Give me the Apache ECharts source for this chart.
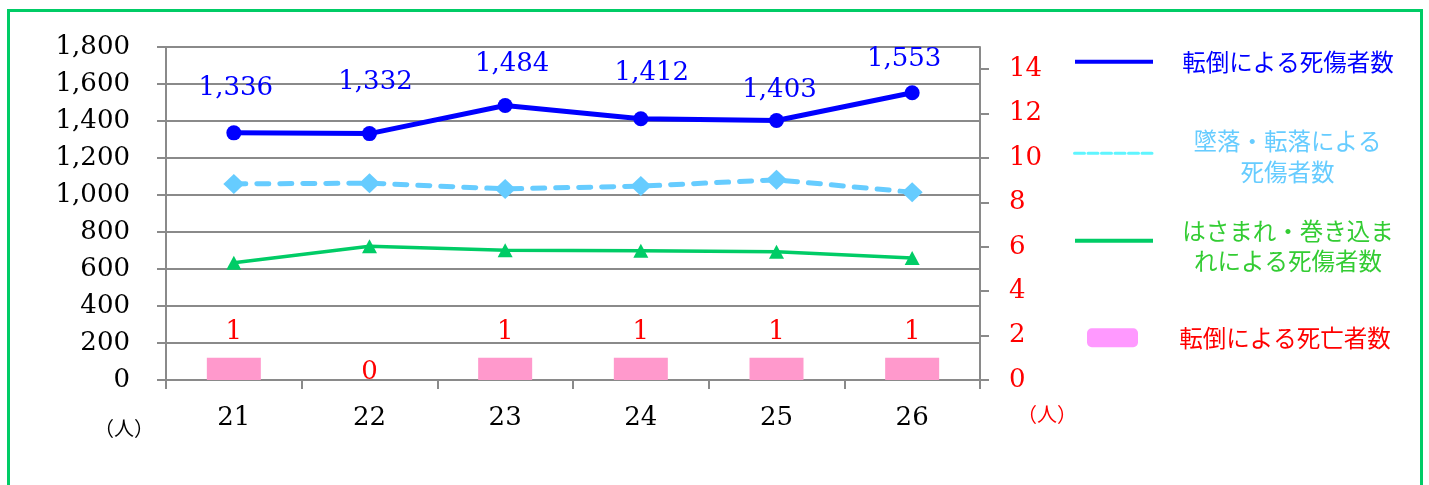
<!DOCTYPE html>
<html>
<head>
<meta charset="utf-8">
<script src="https://cdn.jsdelivr.net/npm/echarts@6/dist/echarts.min.js"></script>
<style>
  html, body { margin: 0; padding: 0; background: #fff; }
  #chart { width: 1429px; height: 485px; }
</style>
</head>
<body>
<div id="chart"></div>
<script>
// Fiscal years (平成)
const years = ['21', '22', '23', '24', '25', '26'];

// 転倒による死傷者数
const fallInjuries = [1336, 1332, 1484, 1412, 1403, 1553];
// 墜落・転落による死傷者数
const dropInjuries = [1060, 1064, 1033, 1048, 1082, 1015];
// はさまれ・巻き込まれによる死傷者数
const caughtInjuries = [634, 723, 702, 698, 693, 660];
// 転倒による死亡者数 (right axis)
const fallDeaths = [1, 0, 1, 1, 1, 1];

// Right-axis tick values
const rightTicks = [0, 2, 4, 6, 8, 10, 12, 14];

// Hand-placed label nudges for the injury totals, [dx, dy] in px
const fallLabelNudge = [[2, -24], [6, -31], [7, -21], [11, -25], [3, -10], [-8, -13]];

const NUM_FONT = '"DejaVu Serif", "Liberation Serif", serif';
const JP_FONT = '"Noto Sans CJK JP", "Noto Sans", sans-serif';
const GRID_GRAY = '#8a8a8a';

const chart = echarts.init(document.getElementById('chart'), null, { renderer: 'canvas' });

function legendBlock(name, lines, color, left, top, opts) {
  const rich = {
    t: {
      width: opts.textWidth,
      align: 'center',
      color: color,
      fontFamily: JP_FONT,
      fontSize: 23.5,
      lineHeight: opts.lineHeight || 30
    }
  };
  return {
    show: true,
    orient: 'vertical',
    left: left,
    top: top,
    padding: 0,
    itemWidth: opts.itemWidth,
    itemHeight: opts.itemHeight,
    selectedMode: false,
    data: [Object.assign({ name: name }, opts.icon ? { icon: opts.icon } : {})],
    formatter: function () {
      return lines.map(function (l) { return '{t|' + l + '}'; }).join('\n');
    },
    textStyle: { rich: rich, padding: opts.textPadding || 0 },
    itemStyle: opts.itemStyle,
    lineStyle: opts.lineStyle
  };
}

const option = {
  animation: false,
  backgroundColor: '#ffffff',
  grid: { left: 166, right: 449, top: 47, bottom: 105 },
  legend: [
    legendBlock('転倒による死傷者数', ['転倒による死傷者数'], '#0000ff', 1073, 50, {
      textWidth: 260, itemWidth: 78, itemHeight: 14,
      itemStyle: { opacity: 0 },
      lineStyle: { color: '#0000ff', width: 4, type: 'solid' }
    }),
    legendBlock('墜落・転落による死傷者数', ['墜落・転落による', '死傷者数'], '#66ccff', 1073, 129, {
      textWidth: 260, itemWidth: 78, itemHeight: 14, lineHeight: 31,
      textPadding: [6, 0, 0, 0],
      itemStyle: { opacity: 0 },
      lineStyle: { color: '#5ff5ff', width: 3, type: [10, 3.5] }
    }),
    legendBlock('はさまれ・巻き込まれによる死傷者数', ['はさまれ・巻き込ま', 'れによる死傷者数'], '#33cc33', 1073, 219, {
      textWidth: 260, itemWidth: 78, itemHeight: 14, lineHeight: 30,
      textPadding: [10, 0, 0, 0],
      itemStyle: { opacity: 0 },
      lineStyle: { color: '#00cc66', width: 4, type: 'solid' }
    }),
    legendBlock('転倒による死亡者数', ['転倒による死亡者数'], '#ff0000', 1087, 326, {
      textWidth: 284, itemWidth: 51, itemHeight: 19, icon: 'roundRect',
      itemStyle: { color: '#ff99ff' }
    })
  ],
  xAxis: {
    type: 'category',
    data: years,
    boundaryGap: true,
    axisLine: { show: true, lineStyle: { color: GRID_GRAY, width: 2 } },
    axisTick: { show: true, length: 9, alignWithLabel: false, lineStyle: { color: GRID_GRAY, width: 2 } },
    axisLabel: { margin: 25, color: '#000', fontFamily: NUM_FONT, fontSize: 26 },
    splitLine: { show: false }
  },
  yAxis: [
    {
      type: 'value',
      min: 0,
      max: 1800,
      interval: 200,
      position: 'left',
      name: '（人）',
      nameLocation: 'start',
      nameGap: 38,
      nameTextStyle: { color: '#000', fontFamily: JP_FONT, fontSize: 20, align: 'right', padding: [0, 12, 0, 0] },
      axisLine: { show: true, lineStyle: { color: GRID_GRAY, width: 2 } },
      axisTick: { show: true, length: 9, lineStyle: { color: GRID_GRAY, width: 2 } },
      axisLabel: {
        margin: 36, color: '#000', fontFamily: NUM_FONT, fontSize: 26,
        formatter: function (v) { return v.toLocaleString('en-US'); }
      },
      splitLine: { show: true, lineStyle: { color: GRID_GRAY, width: 2 } }
    },
    {
      type: 'value',
      min: 0,
      max: 15,
      interval: 2,
      position: 'right',
      name: '（人）',
      nameLocation: 'start',
      nameGap: 24,
      nameTextStyle: { color: '#ff0000', fontFamily: JP_FONT, fontSize: 20, align: 'left', padding: [0, 0, 0, 37] },
      axisLine: { show: true, lineStyle: { color: GRID_GRAY, width: 2 } },
      axisTick: { show: true, length: 9, customValues: rightTicks, lineStyle: { color: GRID_GRAY, width: 2 } },
      axisLabel: {
        margin: 29, color: '#ff0000', fontFamily: NUM_FONT, fontSize: 26,
        customValues: rightTicks
      },
      splitLine: { show: false }
    }
  ],
  series: [
    {
      name: '転倒による死亡者数',
      type: 'bar',
      yAxisIndex: 1,
      barWidth: 54,
      itemStyle: { color: '#ff99cc' },
      data: fallDeaths.map(function (v) {
        return {
          value: v,
          label: { distance: v > 0 ? 13 : -5 }
        };
      }),
      label: {
        show: true,
        position: 'top',
        color: '#ff0000',
        fontFamily: NUM_FONT,
        fontSize: 26
      },
      z: 1
    },
    {
      name: 'はさまれ・巻き込まれによる死傷者数',
      type: 'line',
      data: caughtInjuries,
      symbol: 'triangle',
      symbolSize: [15, 14],
      lineStyle: { color: '#00cc66', width: 3.5 },
      itemStyle: { color: '#00cc66' },
      z: 3
    },
    {
      name: '墜落・転落による死傷者数',
      type: 'line',
      data: dropInjuries,
      symbol: 'diamond',
      symbolSize: [21, 20],
      lineStyle: { color: '#66ccff', width: 5, type: [12, 11], cap: 'round' },
      itemStyle: { color: '#66ccff' },
      z: 4
    },
    {
      name: '転倒による死傷者数',
      type: 'line',
      data: fallInjuries.map(function (v, i) {
        return { value: v, label: { offset: fallLabelNudge[i] } };
      }),
      symbol: 'circle',
      symbolSize: 15,
      lineStyle: { color: '#0000ff', width: 5 },
      itemStyle: { color: '#0000ff' },
      label: {
        show: true,
        position: 'top',
        distance: 0,
        color: '#0000ff',
        fontFamily: NUM_FONT,
        fontSize: 26,
        formatter: function (p) { return p.value.toLocaleString('en-US'); }
      },
      z: 5
    }
  ],
  graphic: [
    {
      type: 'rect',
      silent: true,
      shape: { x: 8.5, y: 10.5, width: 1413, height: 500 },
      style: { fill: 'none', stroke: '#00cc66', lineWidth: 3 },
      z: 0
    }
  ]
};

chart.setOption(option);
</script>
</body>
</html>
